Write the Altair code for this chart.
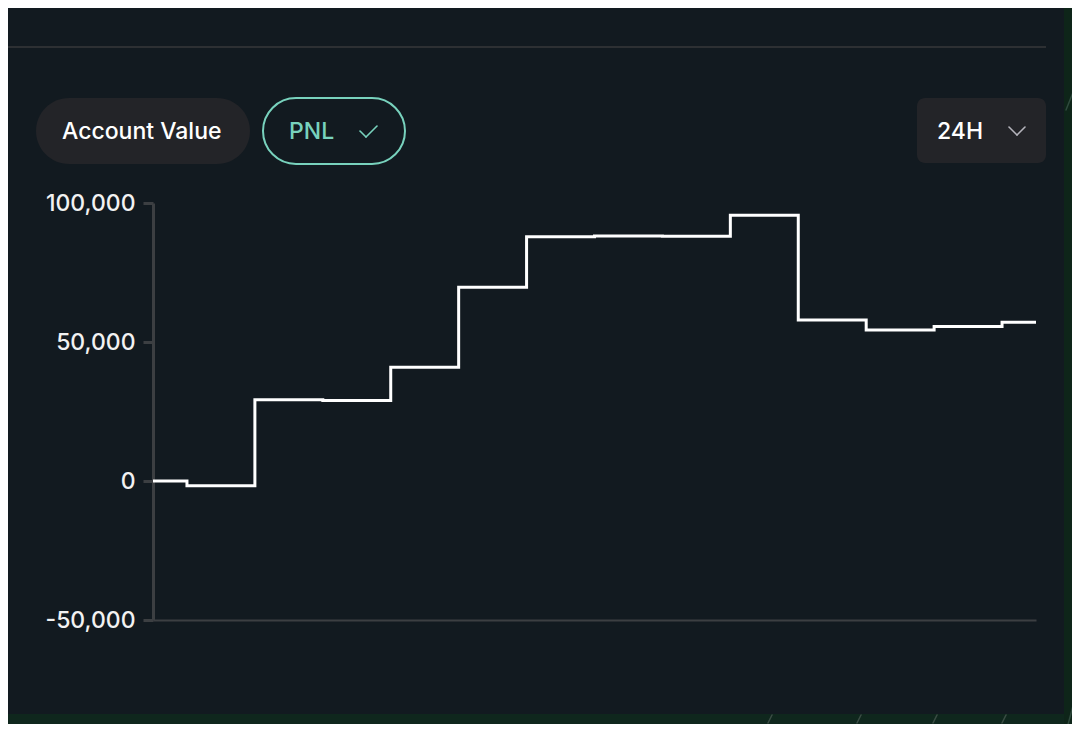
import altair as alt
import pandas as pd

# ---- data ----
steps = list(range(14))
pnl = [0, -1700, 29200, 29000, 40900, 69700, 87900, 88100, 88000, 95600,
       57900, 54300, 55600, 57100]
y_ticks = [-50000, 0, 50000, 100000]
buttons = ["Account Value", "PNL", "24H"]

BG = "#121a20"
GRAY = "#3c3f42"
TEAL = "#78d2bd"
PILL = "#232428"
FONT = "Inter"

df = pd.DataFrame({"t": steps, "pnl": pnl})
one = pd.DataFrame({"k": [0]})

W, H = 883, 417
OX, OY = 153, 203  # page pixel of the plot origin


def px(X):
    return X - OX


def py(Y):
    return Y - OY


def rect(x1, x2, y1, y2, **kw):
    return alt.Chart(one).mark_rect(**kw).encode(
        x=alt.value(px(x1)), x2=alt.value(px(x2)),
        y=alt.value(py(y1)), y2=alt.value(py(y2)))


def seg(x1, y1, x2, y2, color, width):
    return alt.Chart(one).mark_rule(color=color, strokeWidth=width, strokeCap="round").encode(
        x=alt.value(px(x1)), x2=alt.value(px(x2)),
        y=alt.value(py(y1)), y2=alt.value(py(y2)))


def label(txt, X, Y, color, size=23):
    return alt.Chart(one).mark_text(font=FONT, fontSize=size, fontWeight=500,
                                    color=color, align="left", baseline="middle").encode(
        x=alt.value(px(X)), y=alt.value(py(Y)), text=alt.value(txt))


decor = [
    rect(1064, 1100, -10, 740, color="#0e2519"),
    rect(-10, 1064, 714, 724, color="#0f271d"),
    rect(-10, 1064, 724, 740, color="#13171e"),
    rect(-10, 1046, 46, 48, color="#2d3033"),
    rect(36, 250, 98, 164, color=PILL, cornerRadius=33),
    rect(263, 405, 98, 164, fill=BG, stroke=TEAL, strokeWidth=2, cornerRadius=33),
    rect(917, 1046, 98, 163, color=PILL, cornerRadius=8),
    label(buttons[0], 62, 132, "#ffffff"),
    label(buttons[1], 289, 132, TEAL),
    label(buttons[2], 937, 132, "#ffffff"),
    seg(360, 131, 366, 137, TEAL, 1.6),
    seg(366, 137, 377, 126, TEAL, 1.6),
    seg(1009, 127, 1017, 135, "#b4b4bc", 1.6),
    seg(1017, 135, 1025, 127, "#b4b4bc", 1.6),
]
for X in [770, 859, 935, 1004]:
    decor.append(seg(X - 2, 723, X + 2, 715, "#3b4d44", 1.5))
decor.append(seg(1080, 680, 1066, 732, "#2f4a3d", 1.5))
decor.append(seg(1080, 75, 1066, 110, "#2f4a3d", 1.5))

line = alt.Chart(df).mark_line(
    interpolate="step", color="#ffffff", strokeWidth=3,
    strokeJoin="miter", strokeCap="butt"
).encode(
    x=alt.X("t:Q", scale=alt.Scale(domain=[0, 13], nice=False, zero=False),
            axis=alt.Axis(title=None, labels=False, ticks=False, grid=False,
                          domainColor=GRAY, domainWidth=2)),
    y=alt.Y("pnl:Q", scale=alt.Scale(domain=[-50000, 100000], nice=False),
            axis=alt.Axis(values=y_ticks, title=None, grid=False,
                          domainColor=GRAY, domainWidth=3,
                          tickColor=GRAY, tickWidth=3, tickSize=10,
                          labelPadding=8, labelFontSize=23, labelFont=FONT,
                          labelFontWeight=500, labelColor="#f2f2f2",
                          labelExpr="datum.value < 0 ? '-' + format(-datum.value, ',') : format(datum.value, ',')")),
)

chart = alt.layer(*decor, line).properties(
    width=W, height=H,
    autosize=alt.AutoSizeParams(type="none"),
    padding={"left": 145, "top": 195, "right": 36, "bottom": 104},
    background=BG,
).configure_view(stroke=None)

chart.save("out.html", embed_options={"renderer": "svg", "actions": False})
